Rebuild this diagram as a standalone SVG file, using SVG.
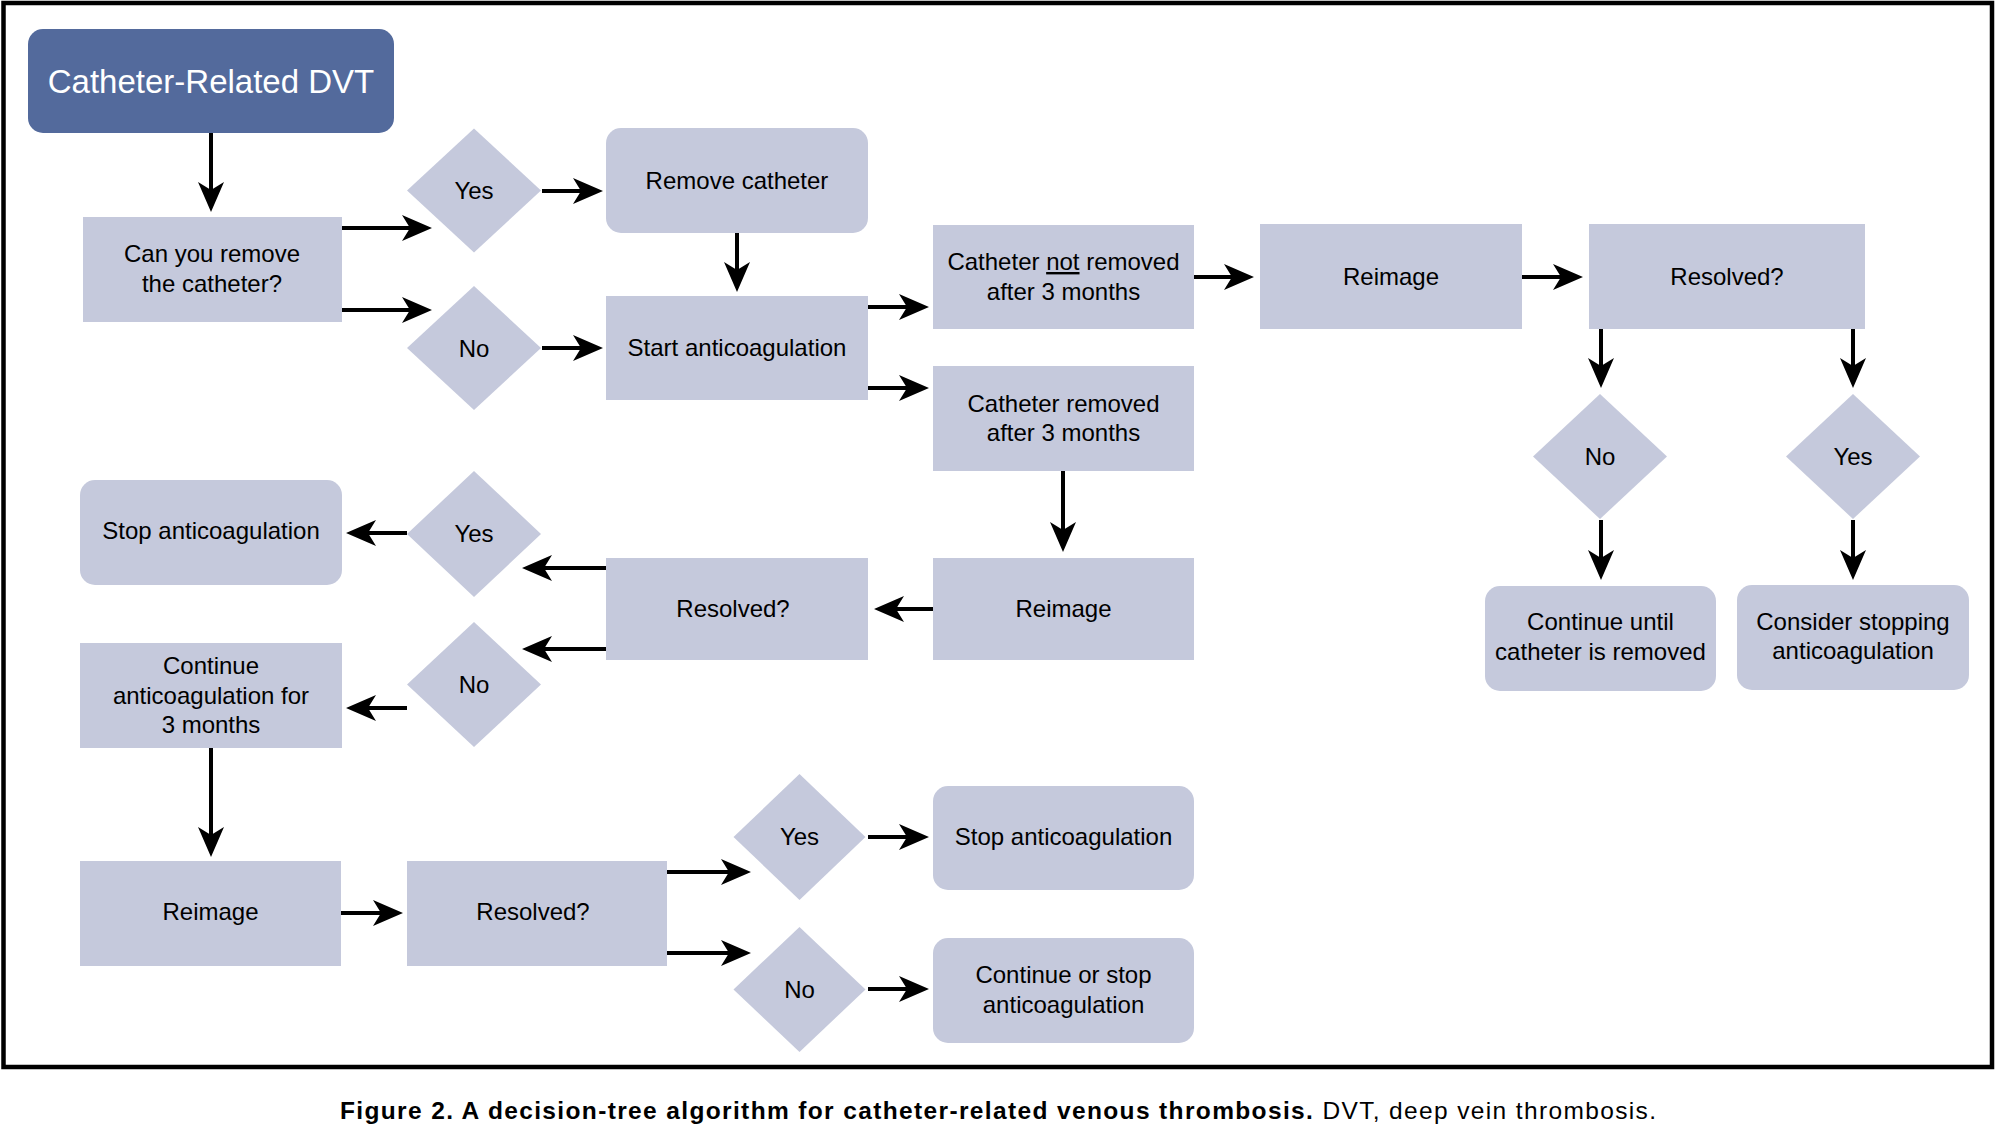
<svg xmlns="http://www.w3.org/2000/svg" width="1998" height="1131" viewBox="0 0 1998 1131">
<style>
.n{fill:#c5c9dc}
.s{fill:#536a9c}
text{font-family:"Liberation Sans",Arial,Helvetica,sans-serif;font-size:24px;fill:#000;text-anchor:middle}
.w{fill:#fff;font-size:33px}
.c line{stroke:#000;stroke-width:4;marker-end:url(#ah)}
.cap{font-size:24.5px;text-anchor:start}
</style>
<defs>
<marker id="ah" markerUnits="userSpaceOnUse" markerWidth="30" markerHeight="26" viewBox="0 0 30 26" refX="10" refY="13" orient="auto"><path d="M0,0 L30,13 L0,26 L8,13 Z" fill="#000"/></marker>
</defs>
<rect x="0" y="0" width="1998" height="1131" fill="#fff"/>
<rect x="3.5" y="3" width="1988.5" height="1064" fill="none" stroke="#000" stroke-width="4.5"/>

<g id="start"><rect class="s" x="28" y="29" width="366" height="104" rx="15"/><text class="w" x="211" y="93">Catheter-Related DVT</text></g>
<g id="q1"><rect class="n" x="83" y="217" width="259" height="105"/><text x="212" y="262">Can you remove</text><text x="212" y="292">the catheter?</text></g>
<g id="yes1"><polygon class="n" points="474,128.5 541,190.5 474,252.5 407,190.5"/><text x="474" y="199">Yes</text></g>
<g id="no1"><polygon class="n" points="474,286 541,348 474,410 407,348"/><text x="474" y="357">No</text></g>
<g id="remove"><rect class="n" x="606" y="128" width="262" height="105" rx="15"/><text x="737" y="189">Remove catheter</text></g>
<g id="startac"><rect class="n" x="606" y="296" width="262" height="104"/><text x="737" y="356">Start anticoagulation</text></g>
<g id="notremoved"><rect class="n" x="933" y="225" width="261" height="104"/><text x="1063.5" y="270">Catheter <tspan text-decoration="underline">not</tspan> removed</text><text x="1063.5" y="300">after 3 months</text></g>
<g id="removed"><rect class="n" x="933" y="366" width="261" height="105"/><text x="1063.5" y="412">Catheter removed</text><text x="1063.5" y="441">after 3 months</text></g>
<g id="reimage1"><rect class="n" x="1260" y="224" width="262" height="105"/><text x="1391" y="285">Reimage</text></g>
<g id="resolved1"><rect class="n" x="1589" y="224" width="276" height="105"/><text x="1727" y="285">Resolved?</text></g>
<g id="no2"><polygon class="n" points="1600,394 1667,456.5 1600,519 1533,456.5"/><text x="1600" y="465">No</text></g>
<g id="yes2"><polygon class="n" points="1853,394 1920,456.5 1853,519 1786,456.5"/><text x="1853" y="465">Yes</text></g>
<g id="contuntil"><rect class="n" x="1485" y="586" width="231" height="105" rx="15"/><text x="1600.5" y="630">Continue until</text><text x="1600.5" y="660">catheter is removed</text></g>
<g id="consider"><rect class="n" x="1737" y="585" width="232" height="105" rx="15"/><text x="1853" y="630">Consider stopping</text><text x="1853" y="659">anticoagulation</text></g>
<g id="reimage2"><rect class="n" x="933" y="558" width="261" height="102"/><text x="1063.5" y="617">Reimage</text></g>
<g id="resolved2"><rect class="n" x="606" y="558" width="262" height="102"/><text x="733" y="617">Resolved?</text></g>
<g id="yes3"><polygon class="n" points="474,471 541,534 474,597 407,534"/><text x="474" y="542">Yes</text></g>
<g id="no3"><polygon class="n" points="474,622 541,684.5 474,747 407,684.5"/><text x="474" y="693">No</text></g>
<g id="stop1"><rect class="n" x="80" y="480" width="262" height="105" rx="15"/><text x="211" y="539">Stop anticoagulation</text></g>
<g id="cont3m"><rect class="n" x="80" y="643" width="262" height="105"/><text x="211" y="674">Continue</text><text x="211" y="704">anticoagulation for</text><text x="211" y="733">3 months</text></g>
<g id="reimage3"><rect class="n" x="80" y="861" width="261" height="105"/><text x="210.5" y="920">Reimage</text></g>
<g id="resolved3"><rect class="n" x="407" y="861" width="260" height="105"/><text x="533" y="920">Resolved?</text></g>
<g id="yes4"><polygon class="n" points="799.5,774 865.5,837 799.5,900 733.5,837"/><text x="799.5" y="845">Yes</text></g>
<g id="no4"><polygon class="n" points="799.5,927 865.5,989.5 799.5,1052 733.5,989.5"/><text x="799.5" y="998">No</text></g>
<g id="stop2"><rect class="n" x="933" y="786" width="261" height="104" rx="15"/><text x="1063.5" y="845">Stop anticoagulation</text></g>
<g id="contstop"><rect class="n" x="933" y="938" width="261" height="105" rx="15"/><text x="1063.5" y="983">Continue or stop</text><text x="1063.5" y="1013">anticoagulation</text></g>

<g id="connectors" class="c">
<line x1="211" y1="133" x2="211" y2="192"/>
<line x1="342" y1="228" x2="412" y2="228"/>
<line x1="342" y1="310" x2="412" y2="310"/>
<line x1="542" y1="191" x2="583" y2="191"/>
<line x1="542" y1="348" x2="583" y2="348"/>
<line x1="737" y1="233" x2="737" y2="272"/>
<line x1="868" y1="307" x2="909" y2="307"/>
<line x1="868" y1="388" x2="909" y2="388"/>
<line x1="1194" y1="277" x2="1234" y2="277"/>
<line x1="1522" y1="277" x2="1563" y2="277"/>
<line x1="1601" y1="329" x2="1601" y2="368"/>
<line x1="1853" y1="329" x2="1853" y2="368"/>
<line x1="1601" y1="520" x2="1601" y2="560"/>
<line x1="1853" y1="520" x2="1853" y2="560"/>
<line x1="1063" y1="471" x2="1063" y2="532"/>
<line x1="933" y1="609" x2="894" y2="609"/>
<line x1="606" y1="568" x2="542" y2="568"/>
<line x1="606" y1="649" x2="542" y2="649"/>
<line x1="407" y1="533" x2="366" y2="533"/>
<line x1="407" y1="708" x2="366" y2="708"/>
<line x1="211" y1="748" x2="211" y2="837"/>
<line x1="341" y1="913" x2="383" y2="913"/>
<line x1="667" y1="872" x2="731" y2="872"/>
<line x1="667" y1="953" x2="731" y2="953"/>
<line x1="868" y1="837" x2="909" y2="837"/>
<line x1="868" y1="989" x2="909" y2="989"/>
</g>

<text class="cap" x="340" y="1119" textLength="1316" lengthAdjust="spacing"><tspan font-weight="bold">Figure 2. A decision-tree algorithm for catheter-related venous thrombosis.</tspan> DVT, deep vein thrombosis.</text>
</svg>
